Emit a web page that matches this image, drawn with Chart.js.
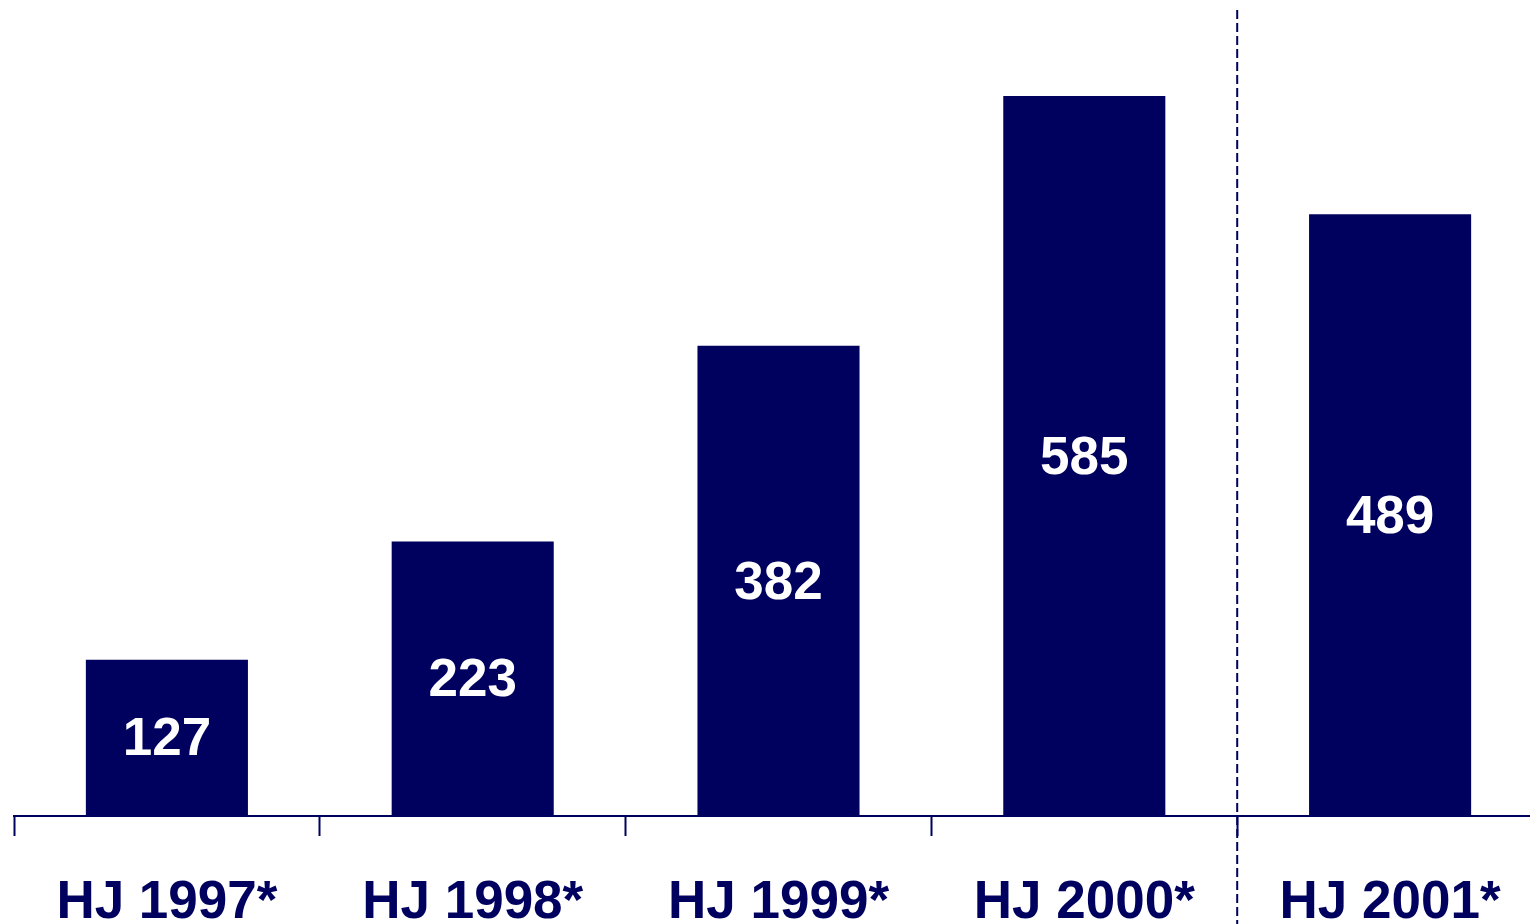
<!DOCTYPE html>
<html>
<head>
<meta charset="utf-8">
<style>
  html, body { margin: 0; padding: 0; background: #fff; overflow: hidden; }
  #wrap { position: relative; width: 1545px; height: 924px; }
</style>
<script src="https://cdn.jsdelivr.net/npm/chart.js@4/dist/chart.umd.min.js"></script>
</head>
<body>
<div id="wrap"><canvas id="c"></canvas></div>
<script>
const categories = ["HJ 1997*", "HJ 1998*", "HJ 1999*", "HJ 2000*", "HJ 2001*"];
const values = [127, 223, 382, 585, 489];
const dividerAfterIndex = 3;

const NAVY = "#00005F";

const valueLabels = {
  id: "valueLabels",
  afterDatasetsDraw(chart) {
    const ctx = chart.ctx;
    const meta = chart.getDatasetMeta(0);
    ctx.save();
    ctx.fillStyle = "#ffffff";
    ctx.font = "bold 53px 'Liberation Sans', Arial, sans-serif";
    ctx.textAlign = "center";
    ctx.textBaseline = "middle";
    meta.data.forEach((bar, i) => {
      const y = (bar.y + bar.base) / 2;
      ctx.fillText(String(values[i]), bar.x, y + 3);
    });
    ctx.restore();
  }
};

const divider = {
  id: "divider",
  afterDraw(chart) {
    const x = chart.scales.x;
    const px = (x.getPixelForValue(dividerAfterIndex) + x.getPixelForValue(dividerAfterIndex + 1)) / 2;
    const ctx = chart.ctx;
    ctx.save();
    ctx.strokeStyle = NAVY;
    ctx.lineWidth = 2;
    ctx.setLineDash([9, 4]);
    ctx.beginPath();
    ctx.moveTo(px, 10);
    ctx.lineTo(px, chart.height);
    ctx.stroke();
    ctx.restore();
  }
};

new Chart(document.getElementById("c"), {
  type: "bar",
  data: {
    labels: categories,
    datasets: [{
      data: values,
      backgroundColor: NAVY,
      borderWidth: 0,
      barPercentage: 0.53,
      categoryPercentage: 1.0
    }]
  },
  options: {
    responsive: true,
    maintainAspectRatio: false,
    animation: false,
    layout: { padding: { left: 14, right: 2, top: 0, bottom: 0 } },
    plugins: { legend: { display: false }, tooltip: { enabled: false } },
    scales: {
      y: { display: false, min: 0, max: 663 },
      x: {
        afterFit(scale) { scale.height = 108; },
        border: { display: true, color: NAVY, width: 2 },
        grid: {
          display: true,
          offset: true,
          drawOnChartArea: false,
          drawTicks: true,
          tickLength: 20,
          tickWidth: 2,
          tickColor: NAVY,
          color: NAVY
        },
        ticks: {
          color: NAVY,
          padding: 36,
          maxRotation: 0,
          autoSkip: false,
          font: { family: "'Liberation Sans', Arial, sans-serif", size: 53, weight: "bold" }
        }
      }
    }
  },
  plugins: [valueLabels, divider]
});
</script>
</body>
</html>
